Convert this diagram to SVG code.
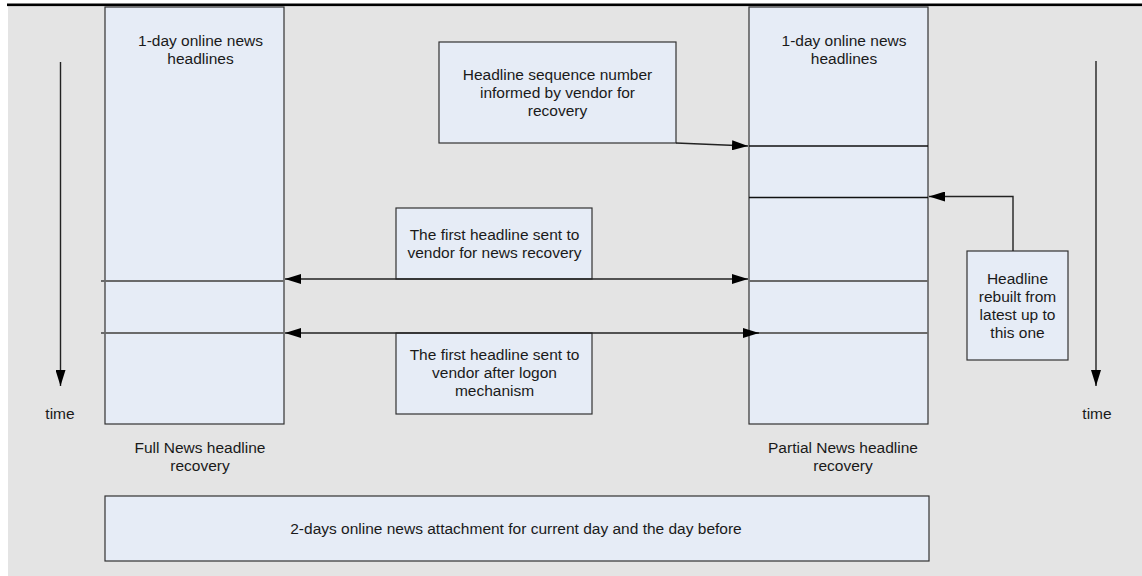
<svg xmlns="http://www.w3.org/2000/svg" width="1142" height="576" viewBox="0 0 1142 576">
  <style>
    .box { fill: #e6ecf6; stroke: #333333; stroke-width: 1.2; }
    .t { font-family: "Liberation Sans", Arial, sans-serif; font-size: 15.5px; fill: #1a1a1a; text-anchor: middle; }
    .div { stroke: #6a6a6a; stroke-width: 1.8; fill: none; }
    .divk { stroke: #111111; stroke-width: 1.3; fill: none; }
    .conn { stroke: #222222; stroke-width: 1.4; fill: none; }
  </style>
  <defs>
    <marker id="ah" viewBox="0 0 16 10" refX="16" refY="5" markerWidth="16" markerHeight="10" markerUnits="userSpaceOnUse" orient="auto-start-reverse">
      <path d="M0,0 L16,5 L0,10 z" fill="#000000"/>
    </marker>
  </defs>

  <rect x="0" y="0" width="1142" height="576" fill="#ffffff"/>
  <rect x="8" y="6" width="1134" height="570" fill="#e4e4e4"/>
  <rect x="7" y="3.5" width="1135" height="2.6" fill="#000000"/>

  <g id="full-news">
    <rect class="box" x="105" y="7" width="179" height="417"/>
    <text class="t" x="200.5" y="45.5">1-day online news</text>
    <text class="t" x="200.5" y="64">headlines</text>
    <line class="div" x1="101" y1="281" x2="284" y2="281"/>
    <line class="div" x1="101" y1="333" x2="284" y2="333"/>
    <text class="t" x="200" y="452.5">Full News headline</text>
    <text class="t" x="200" y="470.5">recovery</text>
  </g>

  <g id="partial-news">
    <rect class="box" x="749" y="7" width="179" height="417"/>
    <text class="t" x="844" y="45.5">1-day online news</text>
    <text class="t" x="844" y="64">headlines</text>
    <line class="divk" x1="749" y1="146" x2="928" y2="146"/>
    <line class="divk" x1="749" y1="197.5" x2="928" y2="197.5"/>
    <line class="div" x1="749" y1="281" x2="928" y2="281"/>
    <line class="div" x1="749" y1="333" x2="928" y2="333"/>
    <text class="t" x="843" y="452.5">Partial News headline</text>
    <text class="t" x="843" y="470.5">recovery</text>
  </g>

  <g id="seq-number">
    <rect class="box" x="439" y="42" width="237" height="101"/>
    <text class="t" x="557.5" y="79.5">Headline sequence number</text>
    <text class="t" x="557.5" y="97.5">informed by vendor for</text>
    <text class="t" x="557.5" y="115.5">recovery</text>
  </g>

  <g id="first-recovery">
    <rect class="box" x="396" y="208" width="196" height="71"/>
    <text class="t" x="494.5" y="239.5">The first headline sent to</text>
    <text class="t" x="494.5" y="257.5">vendor for news recovery</text>
  </g>

  <g id="first-logon">
    <rect class="box" x="396" y="333" width="196" height="81"/>
    <text class="t" x="494.5" y="359.5">The first headline sent to</text>
    <text class="t" x="494.5" y="377.5">vendor after logon</text>
    <text class="t" x="494.5" y="395.5">mechanism</text>
  </g>

  <g id="rebuilt">
    <rect class="box" x="967" y="251" width="101" height="109"/>
    <text class="t" x="1017.5" y="283.5">Headline</text>
    <text class="t" x="1017.5" y="301.8">rebuilt from</text>
    <text class="t" x="1017.5" y="320">latest up to</text>
    <text class="t" x="1017.5" y="338">this one</text>
  </g>

  <g id="attachment">
    <rect class="box" x="105" y="496" width="824" height="65"/>
    <text class="t" x="516" y="533.5">2-days online news attachment for current day and the day before</text>
  </g>

  <g id="time-left">
    <text class="t" x="60" y="418.5">time</text>
  </g>
  <g id="time-right">
    <text class="t" x="1097" y="419">time</text>
  </g>

  <g id="connectors">
    <line class="conn" x1="676" y1="143" x2="748" y2="146" marker-end="url(#ah)"/>
    <line class="conn" x1="285" y1="279" x2="748" y2="279" marker-start="url(#ah)" marker-end="url(#ah)"/>
    <line class="conn" x1="285" y1="333" x2="759" y2="333" marker-start="url(#ah)" marker-end="url(#ah)"/>
    <polyline class="conn" points="1013,251 1013,196.5 929,196.5" marker-end="url(#ah)"/>
    <line class="conn" x1="60.5" y1="62" x2="60.5" y2="386" marker-end="url(#ah)"/>
    <line class="conn" x1="1096" y1="61" x2="1096" y2="386" marker-end="url(#ah)"/>
  </g>
</svg>
